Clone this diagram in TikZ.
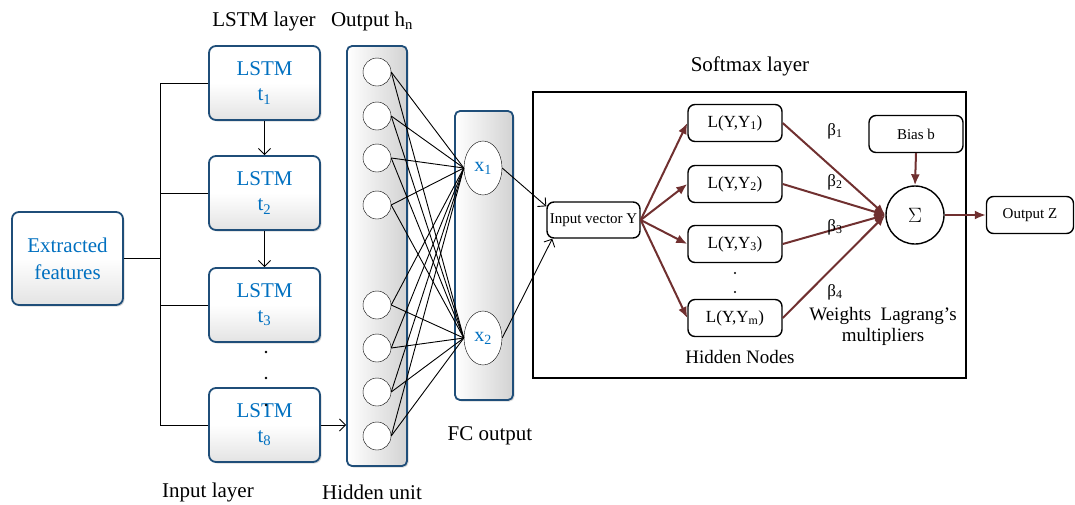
\documentclass[tikz,border=0pt]{standalone}
\usepackage{fontspec}
\setmainfont{Liberation Serif}
\usetikzlibrary{arrows.meta, positioning, shadows, shapes.geometric}

\definecolor{lstmblue}{RGB}{0,112,192}
\definecolor{rimblue}{RGB}{31,78,121}
\definecolor{wine}{RGB}{112,48,48}
\newcommand{\pxfont}[2]{\fontsize{#1}{#2}\selectfont}

\begin{document}
\begin{tikzpicture}[
  x=1pt, y=-1pt,
  font=\pxfont{21}{25},
  cell/.style  ={draw=rimblue, line width=1.8pt, rounded corners=7pt,
                 top color=white, bottom color=gray!22, middle color=white,
                 text=lstmblue, align=center, minimum width=111pt, minimum height=74pt,
                 drop shadow={opacity=0.3, shadow xshift=1.5pt, shadow yshift=-1.5pt}},
  column/.style={draw=rimblue, line width=1.8pt, rounded corners=5pt,
                 left color=white, right color=gray!35,
                 drop shadow={opacity=0.3, shadow xshift=1.5pt, shadow yshift=-1.5pt}},
  unit/.style  ={draw, circle, fill=white, minimum size=28pt, inner sep=0pt},
  fcunit/.style={draw, ellipse, fill=white, minimum width=38pt, minimum height=54pt,
                 inner sep=0pt, text=lstmblue, font=\pxfont{20}{24}},
  lbox/.style  ={draw, line width=1.4pt, rounded corners=7pt, minimum width=94pt,
                 minimum height=37pt, inner sep=2pt, font=\pxfont{17}{20}},
  beta/.style  ={font=\pxfont{17}{20}},
  arr/.style   ={-{Straight Barb[length=6pt, width=12pt]}, line width=0.9pt},
  warr/.style  ={-{Latex[length=11pt, width=9pt]}, line width=2pt, wine},
]
\useasboundingbox (0,0) rectangle (1075,504);

% ================= input + LSTM layer =================
\node[cell, minimum height=93pt, font=\pxfont{21}{27}] (feat) at (67.5,258.5)
  {Extracted\\features};
\node[cell] (t1) at (264.5,83)  {LSTM\\t\textsubscript{1}};
\node[cell] (t2) at (264.5,193) {LSTM\\t\textsubscript{2}};
\node[cell] (t3) at (264.5,305) {LSTM\\t\textsubscript{3}};
\node[cell] (t8) at (264.5,425) {LSTM\\t\textsubscript{8}};

\coordinate (busx) at (160,0);
\draw[line width=0.9pt] (t1.west) -- (t1.west -| busx) -- (t8.west -| busx) -- (t8.west);
\foreach \t in {t2,t3}{\draw[line width=0.9pt] (\t.west) -- (\t.west -| busx);}
\draw[line width=0.9pt] (feat.east) -- (feat.east -| busx);

\draw[arr] (t1.south) -- (t2.north);
\draw[arr] (t2.south) -- (t3.north);
\foreach \y in {352,378,405}{\fill (266,\y) circle (1.3pt);}

% ================= hidden unit + FC output =================
\node[column, minimum width=60pt, minimum height=420pt] (hid) at (377,256) {};
\node[column, minimum width=58pt, minimum height=289pt] (fc) at (484,255.5) {};

\foreach \y [count=\i] in {72,116,158,205,305,348,392,436}
  {\node[unit] (h\i) at (377,\y) {};}
\node[fcunit] (x1) at (483,168) {x\textsubscript{1}};
\node[fcunit] (x2) at (483,338) {x\textsubscript{2}};

\foreach \i in {1,...,8}{
  \draw[line width=0.9pt] (h\i.east) -- (x1.west);
  \draw[line width=0.9pt] (h\i.east) -- (x2.west);
}
\draw[arr] (t8.east) -- (t8.east -| hid.west);

% ================= softmax layer =================
\node[draw, line width=1.1pt, minimum width=433pt, minimum height=286pt,
      inner sep=0pt] (smx) at (749.5,235) {};
\node[lbox, minimum width=93pt, minimum height=36pt, font=\pxfont{15}{18}] (vec)
  at (593.5,220) {Input vector Y};
\draw[arr] (x1.east) -- ([yshift=-5pt]vec.north west);
\draw[arr] (x2.east) -- ([xshift=6pt]vec.south west);

\node[lbox] (L1) at (735,123) {L(Y,Y\textsubscript{1})};
\node[lbox] (L2) at (735,184) {L(Y,Y\textsubscript{2})};
\node[lbox] (L3) at (735,244) {L(Y,Y\textsubscript{3})};
\node[lbox] (Lm) at (735,318) {L(Y,Y\textsubscript{m})};
\foreach \y in {273,292}{\fill (735,\y) circle (1.1pt);}

\node[draw, circle, line width=1.4pt, minimum size=58pt, inner sep=0pt,
      font=\pxfont{22}{24}] (sum) at (915,215) {$\Sigma$};
\node[lbox, font=\pxfont{15}{18}] (bias) at (916,134) {Bias b};
\node[lbox, minimum width=87pt, font=\pxfont{15}{18}] (out) at (1030,215) {Output Z};

\foreach \l in {L1,L2,L3,Lm}{
  \draw[warr] (vec.east) -- (\l.west);
  \draw[warr] (\l.east) -- (sum.west);
}
\draw[warr] (bias.south) -- (sum.north);
\draw[warr] (sum.east) -- (out.west);

\node[beta] (b1) at (835,131) {β\textsubscript{1}};
\node[beta] (b2) at (835,182) {β\textsubscript{2}};
\node[beta] (b3) at (835,227) {β\textsubscript{3}};
\node[beta] (b4) at (835,292) {β\textsubscript{4}};

% ================= labels =================
\node (lstmlbl) at (264,21) {LSTM layer};
\node (hnlbl)   at (372,21) {Output h\textsubscript{n}};
\node (inlbl)   at (208,492) {Input layer};
\node (hidlbl)  at (372,492) {Hidden unit};
\node (fclbl)   at (490,436) {FC output};
\node (smxlbl)  at (750,66) {Softmax layer};
\node[font=\pxfont{19}{21}] (hnodes) at (740,357) {Hidden Nodes};
\node[font=\pxfont{19}{21}, align=center] (wlbl) at (883,326)
  {Weights~~Lagrang’s\\multipliers};

\end{tikzpicture}
\end{document}
